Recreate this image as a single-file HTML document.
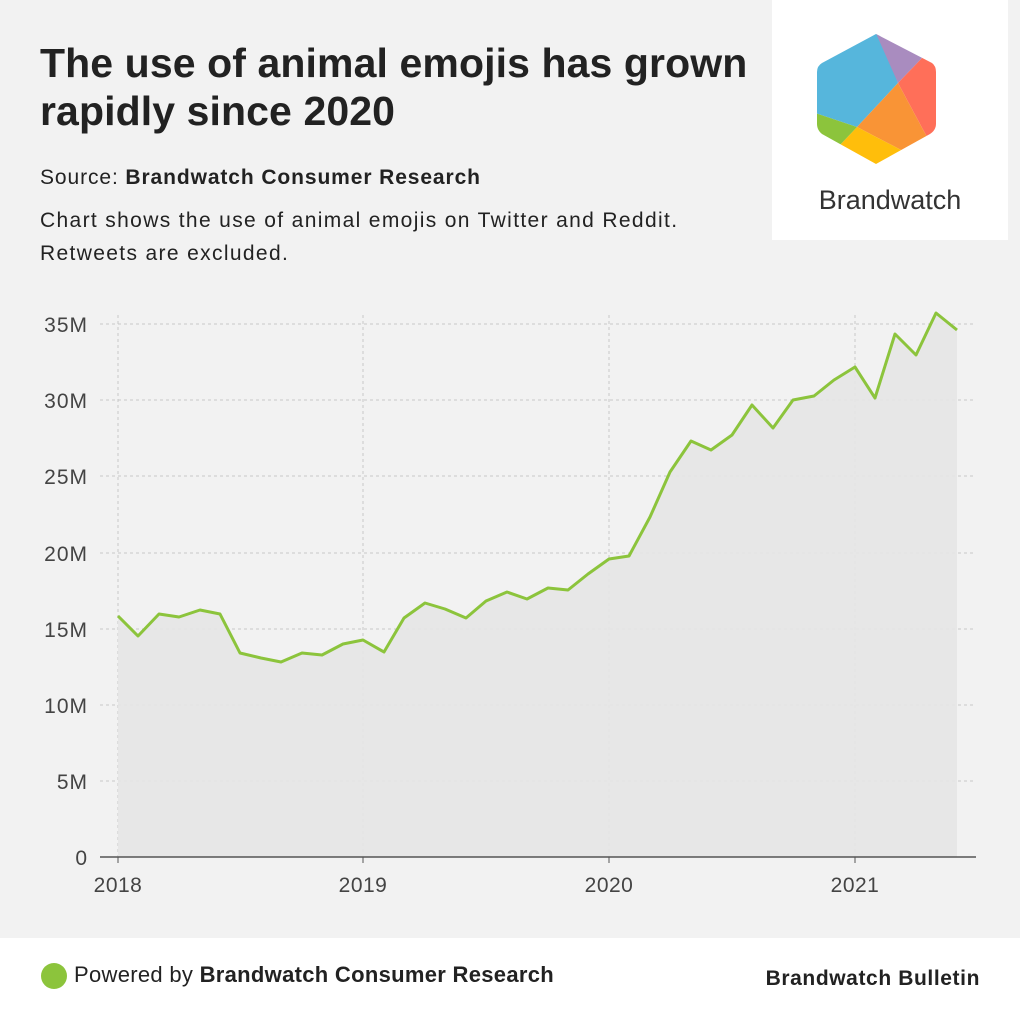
<!DOCTYPE html>
<html><head><meta charset="utf-8"><style>
body{margin:0;width:1020px;height:1020px;background:#f2f2f2;font-family:"Liberation Sans",sans-serif;position:relative;overflow:hidden;color:#222}
.t{position:absolute;left:40px;top:39px;font-size:41px;font-weight:bold;line-height:48px;color:#222;letter-spacing:0.1px}
.s{position:absolute;left:40px;font-size:21px;color:#222;letter-spacing:0.9px}
.logo{position:absolute;left:772px;top:0;width:236px;height:240px;background:#fff}
.foot{position:absolute;left:0;top:938px;width:1020px;height:82px;background:#fff}
</style></head><body>
<div class="t">The use of animal emojis has grown<br>rapidly since 2020</div>
<div class="s" style="top:166px">Source: <b>Brandwatch Consumer Research</b></div>
<div class="s" style="top:204px;line-height:33px;letter-spacing:1.35px">Chart shows the use of animal emojis on Twitter and Reddit.<br>Retweets are excluded.</div>
<div class="logo">
<svg width="236" height="240" style="position:absolute;left:0;top:0">
<defs><clipPath id="h"><path d="M104 34 L160 63 Q164 66 164 72 L164 124 Q164 130 158 134 L104 164 L50 134 Q45 130 45 124 L45 72 Q45 66 50 63 Z"/></clipPath></defs>
<g clip-path="url(#h)"><g transform="translate(-772,0)">
<polygon points="800,0 878,30 898,83 857,127 800,108" fill="#56b6dc"/>
<polygon points="870,20 950,40 922,58 898,83" fill="#a98cbf"/>
<polygon points="922,58 950,40 950,150 927,137 898,83" fill="#ff6f59"/>
<polygon points="898,83 927,137 905,152 857,127" fill="#f99436"/>
<polygon points="857,127 905,152 880,180 840,145" fill="#ffbe0b"/>
<polygon points="800,108 857,127 840,145 800,150" fill="#8cc43c"/>
</g></g>
</svg>
<div style="position:absolute;left:0;width:236px;top:185px;text-align:center;font-size:27px;color:#333">Brandwatch</div>
</div>
<svg width="1020" height="940" style="position:absolute;left:0;top:0">
<g stroke="#c8c8c8" stroke-dasharray="3,3" stroke-width="1">
<line x1="100" x2="976" y1="324" y2="324"/><line x1="100" x2="976" y1="400" y2="400"/><line x1="100" x2="976" y1="476" y2="476"/><line x1="100" x2="976" y1="553" y2="553"/><line x1="100" x2="976" y1="629" y2="629"/><line x1="100" x2="976" y1="705" y2="705"/><line x1="100" x2="976" y1="781" y2="781"/>
<line x1="118" x2="118" y1="315" y2="857"/><line x1="363" x2="363" y1="315" y2="857"/><line x1="609" x2="609" y1="315" y2="857"/><line x1="855" x2="855" y1="315" y2="857"/>
</g>
<polygon fill="#e6e6e6" opacity="0.9" points="118,857 118,616 138,636 159,614 179,617 200,610 220,614 240,653 261,658 281,662 302,653 322,655 343,644 363,640 384,652 404,618 425,603 445,609 466,618 486,601 507,592 527,599 548,588 568,590 588,574 609,559 629,556 650,517 670,472 691,441 711,450 732,435 752,405 773,428 793,400 814,396 834,380 855,367 875,398 895,334 916,355 936,313 957,330 957,857"/>
<polyline fill="none" stroke="#8cc43c" stroke-width="3" stroke-linejoin="round" points="118,616 138,636 159,614 179,617 200,610 220,614 240,653 261,658 281,662 302,653 322,655 343,644 363,640 384,652 404,618 425,603 445,609 466,618 486,601 507,592 527,599 548,588 568,590 588,574 609,559 629,556 650,517 670,472 691,441 711,450 732,435 752,405 773,428 793,400 814,396 834,380 855,367 875,398 895,334 916,355 936,313 957,330"/>
<line x1="100" x2="976" y1="857" y2="857" stroke="#555" stroke-width="1.5"/>
<g stroke="#555"><line x1="118" x2="118" y1="857" y2="863"/><line x1="363" x2="363" y1="857" y2="863"/><line x1="609" x2="609" y1="857" y2="863"/><line x1="855" x2="855" y1="857" y2="863"/></g>
<g font-size="21" fill="#444" text-anchor="end" letter-spacing="1" font-family="Liberation Sans,sans-serif">
<text x="88" y="332">35M</text><text x="88" y="408">30M</text><text x="88" y="484">25M</text><text x="88" y="561">20M</text><text x="88" y="637">15M</text><text x="88" y="713">10M</text><text x="88" y="789">5M</text><text x="88" y="865">0</text>
</g>
<g font-size="21" fill="#444" text-anchor="middle" letter-spacing="0.5" font-family="Liberation Sans,sans-serif">
<text x="118" y="892">2018</text><text x="363" y="892">2019</text><text x="609" y="892">2020</text><text x="855" y="892">2021</text>
</g>
</svg>
<div class="foot">
<div style="position:absolute;left:41px;top:25px;width:26px;height:26px;border-radius:50%;background:#8cc43c"></div>
<div style="position:absolute;left:74px;top:24px;font-size:22px;letter-spacing:0.3px">Powered by <b>Brandwatch Consumer Research</b></div>
<div style="position:absolute;right:40px;top:29px;font-size:21px;font-weight:bold;letter-spacing:0.6px">Brandwatch Bulletin</div>
</div>
</body></html>
